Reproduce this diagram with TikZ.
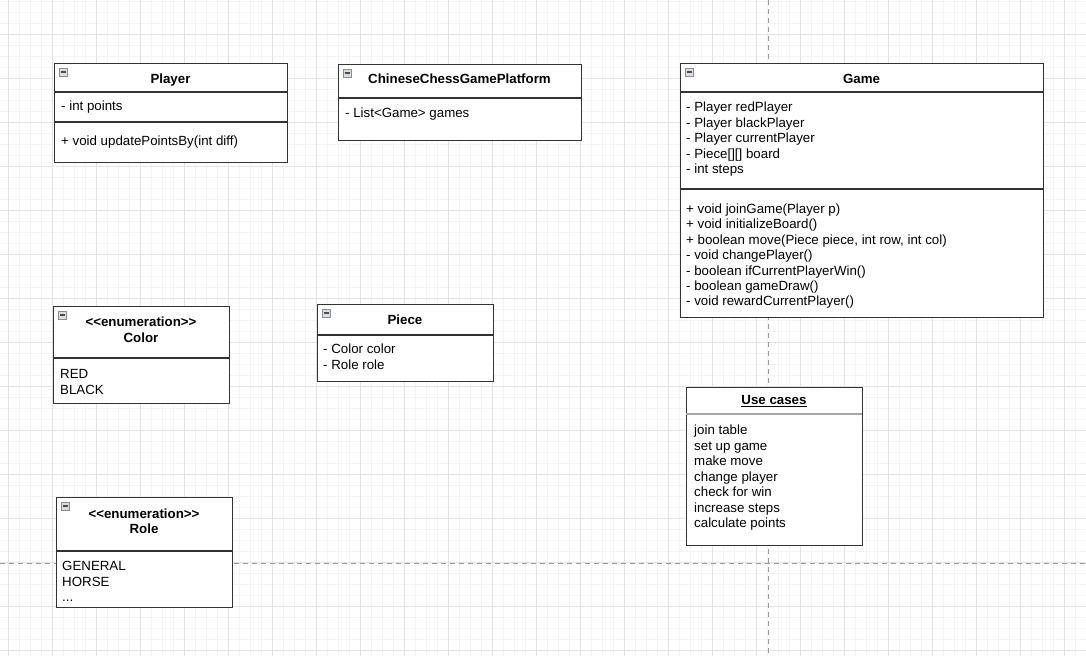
\documentclass[tikz,border=0pt]{standalone}
\usepackage{fontspec}
\setmainfont{Liberation Sans}[Ligatures=NoCommon]
\begin{document}
\begin{tikzpicture}[x=1pt,y=-1pt,
  minorgrid/.style={draw=black!4.5, line width=0.7pt},
  majorgrid/.style={draw=black!11, line width=0.8pt},
  pagebreak/.style={draw=black!40, line width=0.9pt, dash pattern=on 5pt off 4pt},
  umlbox/.style={draw=black!80, fill=white, line width=1.2pt, rectangle, inner sep=0, anchor=north west},
  sepline/.style={draw=black!80, line width=1.2pt},
  lightsep/.style={draw=black!35, line width=1.1pt},
  txt/.style={font=\fontsize{13.3}{15.5}\selectfont, inner sep=0, anchor=base west},
  ttl/.style={font=\bfseries\fontsize{13.3}{15.5}\selectfont, inner sep=0, anchor=base},
  icon/.style={draw=black!45, fill={rgb,255:red,214;green,222;blue,232}, line width=0.6pt, minimum size=8pt, inner sep=0, rectangle}
]
\useasboundingbox (0,0) rectangle (1086,656);
\fill[white] (0,0) rectangle (1086,656);
% grid
\foreach \k in {0,...,99} {\draw[minorgrid] (-3+11*\k,0) -- (-3+11*\k,656);}
\foreach \k in {0,...,60} {\draw[minorgrid] (0,1+11*\k) -- (1086,1+11*\k);}
\foreach \k in {0,...,25} {\draw[majorgrid] (8+44*\k,0) -- (8+44*\k,656);}
\foreach \k in {0,...,15} {\draw[majorgrid] (0,34+44*\k) -- (1086,34+44*\k);}
\coordinate (pbT) at (768,0); \coordinate (pbB) at (768,656);
\coordinate (pbL) at (0,563); \coordinate (pbR) at (1086,563);
\draw[pagebreak] (pbT) -- (pbB);
\draw[pagebreak] (pbL) -- (pbR);

% ---------- Player
\node[umlbox, minimum width=233pt, minimum height=99pt] (player) at (54,63) {};
\draw[sepline] (54,92) -- (287,92);
\draw[sepline] (54,122) -- (287,122);
\node[icon] (player-ic) at (63.5,72) {};
\draw[black!70, line width=1.4pt] (61.2,72) -- (65.8,72);
\node[ttl] (player-t) at (170.5,83) {Player};
\node[txt] (player-a) at (61,110.5) {- int points};
\node[txt] (player-m) at (61,145.5) {+ void updatePointsBy(int diff)};

% ---------- ChineseChessGamePlatform
\node[umlbox, minimum width=243pt, minimum height=76pt] (platform) at (338,64) {};
\draw[sepline] (338,98) -- (581,98);
\node[icon] (platform-ic) at (347.5,73) {};
\draw[black!70, line width=1.4pt] (345.2,73) -- (349.8,73);
\node[ttl] (platform-t) at (459.5,83.5) {ChineseChessGamePlatform};
\node[txt] (platform-a) at (345,117.5) {- List{<}Game{>} games};

% ---------- Game
\node[umlbox, minimum width=363pt, minimum height=254pt] (game) at (680,63) {};
\draw[sepline] (680,92) -- (1043,92);
\draw[sepline] (680,189) -- (1043,189);
\node[icon] (game-ic) at (689.5,72) {};
\draw[black!70, line width=1.4pt] (687.2,72) -- (691.8,72);
\node[ttl] (game-t) at (861.5,83.5) {Game};
\foreach \t [count=\i] in {- Player redPlayer, - Player blackPlayer, - Player currentPlayer, - Piece[][] board, - int steps}
  {\node[txt] (game-a\i) at (686,111.5+15.5*\i-15.5) {\t};}
\foreach \t [count=\i] in {+ void joinGame(Player p), + void initializeBoard(), {+ boolean move(Piece piece, int row, int col)}, - void changePlayer(), - boolean ifCurrentPlayerWin(), - boolean gameDraw(), - void rewardCurrentPlayer()}
  {\node[txt] (game-m\i) at (686,213.5+15.4*\i-15.4) {\t};}

% ---------- Color
\node[umlbox, minimum width=176pt, minimum height=97pt] (color) at (53,306) {};
\draw[sepline] (53,358) -- (229,358);
\node[icon] (color-ic) at (62.5,315) {};
\draw[black!70, line width=1.4pt] (60.2,315) -- (64.8,315);
\node[ttl] (color-t1) at (141,326.5) {{<}{<}enumeration{>}{>}};
\node[ttl] (color-t2) at (141,342) {Color};
\node[txt] (color-a1) at (60,378.5) {RED};
\node[txt] (color-a2) at (60,394) {BLACK};

% ---------- Piece
\node[umlbox, minimum width=176pt, minimum height=77pt] (piece) at (317,304) {};
\draw[sepline] (317,335) -- (493,335);
\node[icon] (piece-ic) at (326.5,313) {};
\draw[black!70, line width=1.4pt] (324.2,313) -- (328.8,313);
\node[ttl] (piece-t) at (405,324.5) {Piece};
\node[txt] (piece-a1) at (323,353.5) {- Color color};
\node[txt] (piece-a2) at (323,369) {- Role role};

% ---------- Use cases
\node[umlbox, minimum width=176pt, minimum height=158pt] (uses) at (686,387) {};
\draw[lightsep] (686,414) -- (862,414);
\node[ttl] (uses-t) at (774,404.5) {\underline{Use cases}};
\foreach \t [count=\i] in {join table, set up game, make move, change player, check for win, increase steps, calculate points}
  {\node[txt] (uses-a\i) at (694,434.5+15.5*\i-15.5) {\t};}

% ---------- Role
\node[umlbox, minimum width=176pt, minimum height=110pt] (role) at (56,497) {};
\draw[sepline] (56,551) -- (232,551);
\node[icon] (role-ic) at (65.5,506) {};
\draw[black!70, line width=1.4pt] (63.2,506) -- (67.8,506);
\node[ttl] (role-t1) at (144,518.5) {{<}{<}enumeration{>}{>}};
\node[ttl] (role-t2) at (144,533) {Role};
\node[txt] (role-a1) at (62,570.5) {GENERAL};
\node[txt] (role-a2) at (62,586) {HORSE};
\node[txt] (role-a3) at (62,601.5) {...};
\end{tikzpicture}
\end{document}
